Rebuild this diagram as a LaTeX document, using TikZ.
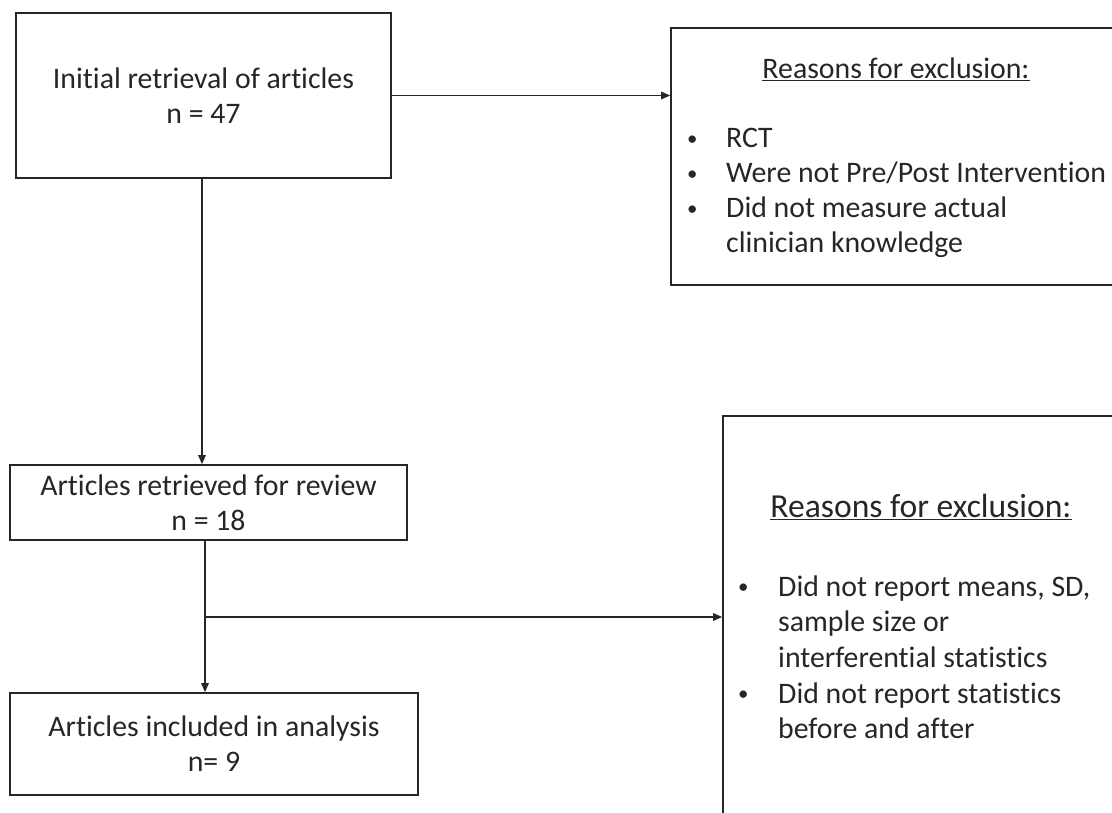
\documentclass[tikz,border=0pt]{standalone}
\usepackage{graphicx}
\usepackage{fontspec}
\setmainfont{Carlito}[Ligatures=NoCommon]
\usetikzlibrary{arrows.meta}
\newcommand{\bul}[1]{\makebox[#1][l]{\hspace{1pt}\raisebox{2.5pt}{\scalebox{0.7}{\textbullet}}}}
\begin{document}
\begin{tikzpicture}[x=1pt,y=-1pt,
  box/.style={draw=black!85,line width=1.6pt,inner sep=0pt},
  txt/.style={font=\fontsize{29.8}{35}\selectfont,text=black!85,align=center},
  body/.style={inner sep=0pt,text=black!85,anchor=north west},
  ln/.style={draw=black!85,line width=1.3pt},
  arr/.style={ln,-{Triangle[length=9pt,width=7.5pt]}}]
\useasboundingbox (0,0) rectangle (1112,812);
\clip (0,0) rectangle (1112,812);
% main boxes
\node[box,txt,minimum width=375pt,minimum height=165pt] (init) at (203.5,95.5) {Initial retrieval of articles\\n = 47};
\node[box,txt,minimum width=397pt,minimum height=75pt] (rev) at (208.5,502.5) {Articles retrieved for review\\n = 18};
\node[box,txt,minimum width=408pt,minimum height=102pt] (ana) at (214,744) {Articles included in analysis\\n= 9};
% exclusion boxes
\node[box,minimum width=449pt,minimum height=257pt] (ex1) at (895.5,156.5) {};
\node[box,minimum width=397pt,minimum height=414pt] (ex2) at (921.5,623) {};
% texts of exclusion box 1
\node[txt] (h1) at (896,69) {\underline{Reasons for exclusion:}};
\node[body] (b1) at (686,123) {\fontsize{29.8}{35}\selectfont
\begin{tabular}{@{}l@{}l@{}}
\bul{40pt} & RCT\\
\bul{40pt} & Were not Pre/Post Intervention\\
\bul{40pt} & Did not measure actual\\
 & clinician knowledge
\end{tabular}};
% texts of exclusion box 2
\node[txt,font=\fontsize{33.6}{35}\selectfont] (h2) at (921,507) {\underline{Reasons for exclusion:}};
\node[body] (b2) at (737,571) {\fontsize{29.8}{35.7}\selectfont
\begin{tabular}{@{}l@{}l@{}}
\bul{41pt} & Did not report means, SD,\\
 & sample size or\\
 & interferential statistics\\
\bul{41pt} & Did not report statistics\\
 & before and after
\end{tabular}};
% connectors
\coordinate (br) at (205,617);
\draw[arr] (init.east) -- (init.east -| ex1.west);
\draw[arr] (init.south -| 202,0) -- (rev.north -| 202,0);
\draw[ln] (rev.south -| br) -- (br);
\draw[arr] (br) -- (ana.north -| br);
\draw[arr] (br) -- (br -| ex2.west);
\end{tikzpicture}
\end{document}
